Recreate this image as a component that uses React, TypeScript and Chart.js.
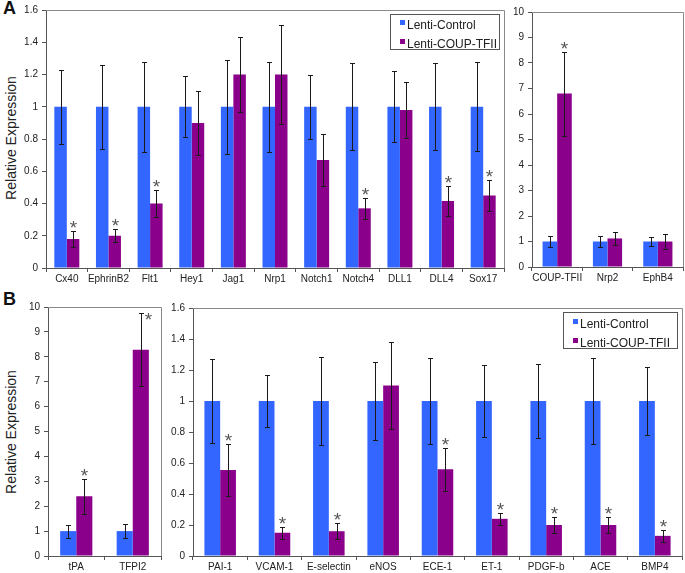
import React, { useEffect, useRef } from "react";
import { Chart, registerables } from "chart.js";

Chart.register(...registerables);

const FONT = "Arial, 'Liberation Sans', Helvetica, sans-serif";
const BLUE = "#3366FF";
const PURPLE = "#8B008B";

// Panel A (main)
const catsA = ["Cx40", "EphrinB2", "Flt1", "Hey1", "Jag1", "Nrp1", "Notch1", "Notch4", "DLL1", "DLL4", "Sox17"];
const ctrlA = [1, 1, 1, 1, 1, 1, 1, 1, 1, 1, 1];
const ctrlErrA = [0.23, 0.26, 0.28, 0.19, 0.29, 0.28, 0.2, 0.27, 0.22, 0.27, 0.275];
const coupA = [0.18, 0.2, 0.4, 0.9, 1.2, 1.2, 0.67, 0.37, 0.98, 0.415, 0.45];
const coupErrA = [0.05, 0.04, 0.085, 0.2, 0.23, 0.31, 0.16, 0.065, 0.175, 0.095, 0.095];
const sigA = [true, true, true, false, false, false, false, true, false, true, true];

// Panel A (right)
const catsA2 = ["COUP-TFII", "Nrp2", "EphB4"];
const ctrlA2 = [1, 1, 1];
const ctrlErrA2 = [0.22, 0.22, 0.17];
const coupA2 = [6.8, 1.12, 1.0];
const coupErrA2 = [1.65, 0.25, 0.3];
const sigA2 = [true, false, false];

// Panel B (left)
const catsB1 = ["tPA", "TFPI2"];
const ctrlB1 = [1, 1];
const ctrlErrB1 = [0.26, 0.27];
const coupB1 = [2.4, 8.28];
const coupErrB1 = [0.71, 1.47];
const sigB1 = [true, true];

// Panel B (right)
const catsB2 = ["PAI-1", "VCAM-1", "E-selectin", "eNOS", "ECE-1", "ET-1", "PDGF-b", "ACE", "BMP4"];
const ctrlB2 = [1, 1, 1, 1, 1, 1, 1, 1, 1];
const ctrlErrB2 = [0.27, 0.17, 0.285, 0.25, 0.28, 0.23, 0.24, 0.28, 0.22];
const coupB2 = [0.555, 0.15, 0.16, 1.1, 0.56, 0.24, 0.2, 0.2, 0.13];
const coupErrB2 = [0.167, 0.04, 0.05, 0.28, 0.14, 0.04, 0.05, 0.05, 0.04];
const sigB2 = [true, true, true, false, true, true, true, true, true];

const seriesNames = ["Lenti-Control", "Lenti-COUP-TFII"];

type PanelProps = {
  x: number; y: number; w: number; h: number;
  plot: [number, number, number, number];
  cats: string[]; ctrl: number[]; ctrlErr: number[]; coup: number[]; coupErr: number[]; sig: boolean[];
  yMax: number; yStep: number; catPct: number;
};

function Panel(p: PanelProps) {
  const ref = useRef<HTMLCanvasElement | null>(null);
  useEffect(() => {
    const [l, t, r, b] = p.plot;
    const errPlugin = {
      id: "errbars",
      beforeDatasetsDraw(chart: any) {
        const { ctx, chartArea } = chart;
        ctx.save();
        ctx.strokeStyle = "#8a8a8a";
        ctx.lineWidth = 1;
        ctx.beginPath();
        ctx.moveTo(chartArea.left, Math.round(chartArea.top) + 0.5);
        ctx.lineTo(Math.round(chartArea.right) + 0.5, Math.round(chartArea.top) + 0.5);
        ctx.lineTo(Math.round(chartArea.right) + 0.5, chartArea.bottom);
        ctx.stroke();
        ctx.restore();
      },
      afterDatasetsDraw(chart: any) {
        const ctx = chart.ctx;
        const ys = chart.scales.y;
        const area = chart.chartArea;
        ctx.save();
        const sets: [number, number[], boolean[] | null][] = [
          [0, p.ctrlErr, null],
          [1, p.coupErr, p.sig],
        ];
        sets.forEach(([di, errs, sg]) => {
          const meta = chart.getDatasetMeta(di);
          meta.data.forEach((el: any, j: number) => {
            const v = chart.data.datasets[di].data[j] as number;
            const top = Math.round(ys.getPixelForValue(v + errs[j])) + 0.5;
            const bot = Math.round(ys.getPixelForValue(v - errs[j])) + 0.5;
            const x = Math.round(el.x) + 0.5;
            ctx.strokeStyle = "#1a1a1a";
            ctx.lineWidth = 1;
            ctx.beginPath();
            ctx.moveTo(x, top);
            ctx.lineTo(x, bot);
            ctx.moveTo(x - 2.5, top);
            ctx.lineTo(x + 2.5, top);
            ctx.moveTo(x - 2.5, bot);
            ctx.lineTo(x + 2.5, bot);
            ctx.stroke();
            if (sg && sg[j]) {
              ctx.fillStyle = "#555";
              ctx.font = `19px ${FONT}`;
              ctx.textAlign = "center";
              ctx.textBaseline = "alphabetic";
              if (top - 14 < area.top) {
                ctx.fillText("*", x + 7, top + 12);
              } else {
                ctx.fillText("*", x, top + 2);
              }
            }
          });
        });
        ctx.restore();
      },
    };
    const chart = new Chart(ref.current as HTMLCanvasElement, {
      type: "bar",
      data: {
        labels: p.cats,
        datasets: [
          { label: seriesNames[0], data: p.ctrl, backgroundColor: BLUE, borderWidth: 0 },
          { label: seriesNames[1], data: p.coup, backgroundColor: PURPLE, borderWidth: 0 },
        ],
      },
      options: {
        responsive: false,
        animation: false,
        layout: { padding: { top: t - p.y, right: p.x + p.w - r, left: 0, bottom: 0 } },
        datasets: { bar: { barPercentage: 1, categoryPercentage: p.catPct } },
        plugins: { legend: { display: false }, tooltip: { enabled: false } },
        scales: {
          x: {
            grid: { drawOnChartArea: false, color: "#555", tickLength: 4, offset: true },
            border: { color: "#555" },
            ticks: { font: { size: 10, family: FONT }, color: "#222", padding: 1, maxRotation: 0, autoSkip: false },
            afterFit: (s: any) => { s.height = p.y + p.h - b; },
          },
          y: {
            min: 0,
            max: p.yMax,
            ticks: {
              stepSize: p.yStep,
              font: { size: 10, family: FONT },
              color: "#222",
              padding: 4,
              callback: (v: any) => String(Number(Number(v).toFixed(1))),
            },
            grid: { drawOnChartArea: false, color: "#555", tickLength: 4 },
            border: { color: "#555" },
            afterFit: (s: any) => { s.width = l - p.x; },
          },
        },
      } as any,
      plugins: [errPlugin],
    });
    return () => chart.destroy();
  }, []);
  return (
    <canvas
      ref={ref}
      width={p.w}
      height={p.h}
      style={{ position: "absolute", left: p.x, top: p.y, width: p.w, height: p.h }}
    />
  );
}

function Legend({ x, y, w, h, rows }: { x: number; y: number; w: number; h: number; rows: number[] }) {
  const colors = [BLUE, PURPLE];
  return (
    <div
      style={{
        position: "absolute", left: x, top: y, width: w, height: h,
        border: "1px solid #555", background: "#fff", boxSizing: "border-box",
        fontFamily: FONT, fontSize: 12, color: "#222",
      }}
    >
      {seriesNames.map((n, i) => (
        <div key={n} style={{ position: "absolute", left: 9, top: rows[i] - 7, height: 14, lineHeight: "14px", whiteSpace: "nowrap" }}>
          <span style={{ display: "inline-block", width: 5, height: 5, background: colors[i], marginRight: 2, verticalAlign: "middle", position: "relative", top: -3 }} />
          {n}
        </div>
      ))}
    </div>
  );
}

function YTitle({ cx, cy }: { cx: number; cy: number }) {
  return (
    <div
      style={{
        position: "absolute", left: cx - 80, top: cy - 9, width: 160, height: 18,
        lineHeight: "18px", textAlign: "center", transform: "rotate(-90deg)",
        fontFamily: FONT, fontSize: 14, color: "#222", whiteSpace: "nowrap",
      }}
    >
      Relative Expression
    </div>
  );
}

export default function App() {
  return (
    <div style={{ position: "fixed", left: 0, top: 0, width: 685, height: 573, background: "#fff", overflow: "hidden" }}>
      <Panel x={20} y={0} w={486} h={292} plot={[46, 10, 504, 268]}
        cats={catsA} ctrl={ctrlA} ctrlErr={ctrlErrA} coup={coupA} coupErr={coupErrA} sig={sigA}
        yMax={1.6} yStep={0.2} catPct={0.6} />
      <Panel x={510} y={0} w={175} h={292} plot={[532, 12, 683, 267]}
        cats={catsA2} ctrl={ctrlA2} ctrlErr={ctrlErrA2} coup={coupA2} coupErr={coupErrA2} sig={sigA2}
        yMax={10} yStep={1} catPct={0.58} />
      <Panel x={22} y={295} w={144} h={278} plot={[48, 307, 161, 556]}
        cats={catsB1} ctrl={ctrlB1} ctrlErr={ctrlErrB1} coup={coupB1} coupErr={coupErrB1} sig={sigB1}
        yMax={10} yStep={1} catPct={0.57} />
      <Panel x={166} y={295} w={519} h={278} plot={[193, 308, 682, 556]}
        cats={catsB2} ctrl={ctrlB2} ctrlErr={ctrlErrB2} coup={coupB2} coupErr={coupErrB2} sig={sigB2}
        yMax={1.6} yStep={0.2} catPct={0.58} />
      <Legend x={390} y={14} w={110} h={36} rows={[10, 29]} />
      <Legend x={563} y={312} w={115} h={37} rows={[11, 30]} />
      <YTitle cx={11} cy={138} />
      <YTitle cx={11} cy={432} />
      <div style={{ position: "absolute", left: 3, top: -2, fontFamily: FONT, fontWeight: "bold", fontSize: 18, lineHeight: "20px", color: "#111" }}>A</div>
      <div style={{ position: "absolute", left: 3, top: 289, fontFamily: FONT, fontWeight: "bold", fontSize: 18, lineHeight: "20px", color: "#111" }}>B</div>
    </div>
  );
}
